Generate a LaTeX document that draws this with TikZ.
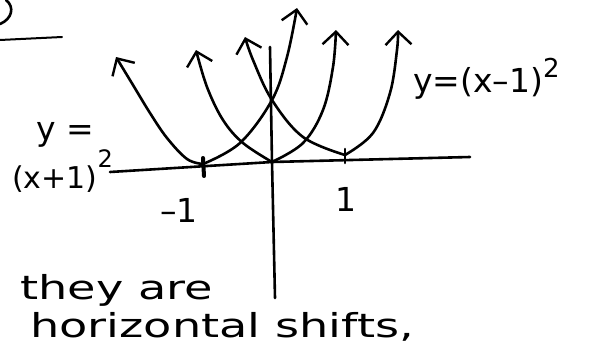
\documentclass[tikz,border=0pt]{standalone}
\usepackage{fontspec}
\setmainfont{DejaVu Sans}
\usetikzlibrary{arrows.meta}
\tikzset{
  ink/.style={line width=2.6pt, line cap=round, line join=round},
  arm/.style={ink, -{Straight Barb[length=13pt, width=26pt, line width=2.4pt]}},
  lbl/.style={inner sep=0pt, font=\fontsize{30}{32}\selectfont},
  big/.style={inner sep=0pt, font=\fontsize{33}{36}\selectfont},
  txt/.style={inner sep=0pt, font=\fontsize{33}{36}\selectfont}
}
\begin{document}
\begin{tikzpicture}[x=1pt,y=-1pt]
\useasboundingbox[fill=white] (0,0) rectangle (590,356);
% top-left fragment
\draw[ink] (6,0) .. controls (15,7) and (12,19) .. (0,24);
\draw[ink, line width=2pt] (0,40) -- (62,37);
% named points
\coordinate (O) at (272,162);
\coordinate (vL) at (203,164);
\coordinate (vR) at (345,155);
\coordinate (xl) at (110,172);
\coordinate (xr) at (470,157);
\coordinate (yt) at (270,47);
\coordinate (yb) at (275,298);
% axes
\draw[ink] (xl) -- (O) -- (xr);
\draw[ink] (yt) -- (O) -- (yb);
% ticks
\draw[line width=4pt, line cap=round] (203,158) -- (204,176);
\draw[ink] (345,149) -- (345,163);
% parabola (x+1)^2
\draw[arm] plot[smooth, tension=0.6] coordinates {(vL) (187,159) (167,138) (150,113) (133,85) (116,57)};
\draw[arm] plot[smooth, tension=0.6] coordinates {(vL) (240,143) (272,100) (287,57) (297,8)};
% parabola x^2
\draw[arm] plot[smooth, tension=0.6] coordinates {(O) (243,143) (223,120) (207,87) (196,50)};
\draw[arm] plot[smooth, tension=0.6] coordinates {(O) (303,143) (323,110) (333,67) (336,30)};
% parabola (x-1)^2
\draw[arm] plot[smooth, tension=0.6] coordinates {(vR) (303,137) (272,100) (253,60) (245,37)};
\draw[arm] plot[smooth, tension=0.6] coordinates {(vR) (373,133) (390,93) (397,50) (398,30)};
% labels
\node[big, anchor=base west] (ly) at (36,140) {y =};
\node[lbl, anchor=base west] (lx) at (12,188) {(x+1)\raisebox{21pt}{\fontsize{24}{26}\selectfont 2}};
\node[big, anchor=base west] (rl) at (413,92) {y=(x–1)\raisebox{15pt}{\fontsize{26}{28}\selectfont 2}};
\node[big, anchor=base west] (tm) at (160,222) {–1};
\node[big, anchor=base west] (tp) at (335,211) {1};
% text
\node[txt, anchor=base west] (t1) at (20,299) {\scalebox{1.4}[1]{they are}};
\node[txt, anchor=base west] (t2) at (30,337) {\scalebox{1.4}[1]{horizontal shifts,}};
\end{tikzpicture}
\end{document}
